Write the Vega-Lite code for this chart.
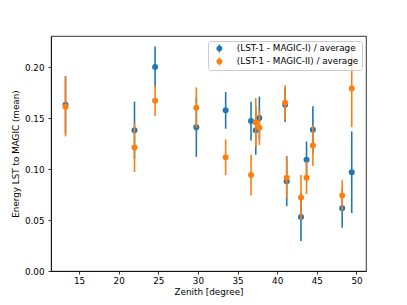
{
  "$schema": "https://vega.github.io/schema/vega-lite/v6.json",
  "width": 315,
  "height": 235,
  "autosize": {"type": "none"},
  "padding": {"left": 51, "top": 36, "right": 41, "bottom": 34},
  "background": "white",
  "config": {
    "font": "DejaVu Sans",
    "view": {"stroke": "black", "strokeWidth": 0.8},
    "axis": {
      "domainColor": "black", "domainWidth": 0.8, "tickColor": "black", "tickWidth": 0.8, "tickSize": 3,
      "labelFont": "DejaVu Sans", "labelFontSize": 8.8, "labelColor": "black",
      "titleFont": "DejaVu Sans", "titleFontSize": 8.8, "titleFontWeight": "normal", "titleColor": "black",
      "grid": false
    }
  },
  "data": {"values": [
    {"zenith": 13.3, "value": 0.163, "err": 0.028, "series": "(LST-1 - MAGIC-I) / average"},
    {"zenith": 22.0, "value": 0.138, "err": 0.028, "series": "(LST-1 - MAGIC-I) / average"},
    {"zenith": 24.6, "value": 0.200, "err": 0.020, "series": "(LST-1 - MAGIC-I) / average"},
    {"zenith": 29.8, "value": 0.141, "err": 0.029, "series": "(LST-1 - MAGIC-I) / average"},
    {"zenith": 33.5, "value": 0.1575, "err": 0.018, "series": "(LST-1 - MAGIC-I) / average"},
    {"zenith": 36.7, "value": 0.147, "err": 0.019, "series": "(LST-1 - MAGIC-I) / average"},
    {"zenith": 37.3, "value": 0.138, "err": 0.024, "series": "(LST-1 - MAGIC-I) / average"},
    {"zenith": 37.75, "value": 0.150, "err": 0.021, "series": "(LST-1 - MAGIC-I) / average"},
    {"zenith": 41.0, "value": 0.163, "err": 0.017, "series": "(LST-1 - MAGIC-I) / average"},
    {"zenith": 41.2, "value": 0.088, "err": 0.0245, "series": "(LST-1 - MAGIC-I) / average"},
    {"zenith": 43.0, "value": 0.053, "err": 0.0236, "series": "(LST-1 - MAGIC-I) / average"},
    {"zenith": 43.7, "value": 0.109, "err": 0.018, "series": "(LST-1 - MAGIC-I) / average"},
    {"zenith": 44.5, "value": 0.1385, "err": 0.023, "series": "(LST-1 - MAGIC-I) / average"},
    {"zenith": 48.2, "value": 0.0614, "err": 0.019, "series": "(LST-1 - MAGIC-I) / average"},
    {"zenith": 49.4, "value": 0.0968, "err": 0.040, "series": "(LST-1 - MAGIC-I) / average"},
    {"zenith": 13.3, "value": 0.161, "err": 0.029, "series": "(LST-1 - MAGIC-II) / average"},
    {"zenith": 22.0, "value": 0.121, "err": 0.024, "series": "(LST-1 - MAGIC-II) / average"},
    {"zenith": 24.6, "value": 0.167, "err": 0.015, "series": "(LST-1 - MAGIC-II) / average"},
    {"zenith": 29.8, "value": 0.160, "err": 0.020, "series": "(LST-1 - MAGIC-II) / average"},
    {"zenith": 33.5, "value": 0.1115, "err": 0.0175, "series": "(LST-1 - MAGIC-II) / average"},
    {"zenith": 36.7, "value": 0.094, "err": 0.020, "series": "(LST-1 - MAGIC-II) / average"},
    {"zenith": 37.3, "value": 0.1455, "err": 0.024, "series": "(LST-1 - MAGIC-II) / average"},
    {"zenith": 37.75, "value": 0.1405, "err": 0.017, "series": "(LST-1 - MAGIC-II) / average"},
    {"zenith": 41.0, "value": 0.165, "err": 0.017, "series": "(LST-1 - MAGIC-II) / average"},
    {"zenith": 41.2, "value": 0.0915, "err": 0.020, "series": "(LST-1 - MAGIC-II) / average"},
    {"zenith": 43.0, "value": 0.072, "err": 0.022, "series": "(LST-1 - MAGIC-II) / average"},
    {"zenith": 43.7, "value": 0.0915, "err": 0.016, "series": "(LST-1 - MAGIC-II) / average"},
    {"zenith": 44.5, "value": 0.123, "err": 0.020, "series": "(LST-1 - MAGIC-II) / average"},
    {"zenith": 48.2, "value": 0.074, "err": 0.015, "series": "(LST-1 - MAGIC-II) / average"},
    {"zenith": 49.4, "value": 0.179, "err": 0.038, "series": "(LST-1 - MAGIC-II) / average"}
  ]},
  "encoding": {
    "x": {"field": "zenith", "type": "quantitative", "title": "Zenith [degree]",
          "scale": {"domain": [11.47, 51.2], "nice": false, "zero": false},
          "axis": {"values": [15, 20, 25, 30, 35, 40, 45, 50], "labelPadding": 2, "titlePadding": 3}},
    "y": {"field": "value", "type": "quantitative", "title": "Energy LST to MAGIC (mean)",
          "scale": {"domain": [0, 0.2304], "nice": false},
          "axis": {"values": [0, 0.05, 0.1, 0.15, 0.2], "format": ".2f", "labelPadding": 4, "titlePadding": 4}}
  },
  "layer": [
    {
      "transform": [{"filter": "datum.series === '(LST-1 - MAGIC-I) / average'"}],
      "mark": {"type": "errorbar", "thickness": 1.6, "color": "#1f77b4", "opacity": 1},
      "encoding": {"yError": {"field": "err"}}
    },
    {
      "transform": [{"filter": "datum.series === '(LST-1 - MAGIC-I) / average'"}],
      "mark": {"type": "point", "filled": true, "size": 36, "opacity": 1},
      "encoding": {"color": {"field": "series", "type": "nominal"}}
    },
    {
      "transform": [{"filter": "datum.series === '(LST-1 - MAGIC-II) / average'"}],
      "mark": {"type": "errorbar", "thickness": 1.6, "color": "#ff7f0e", "opacity": 1},
      "encoding": {"yError": {"field": "err"}}
    },
    {
      "transform": [{"filter": "datum.series === '(LST-1 - MAGIC-II) / average'"}],
      "mark": {"type": "point", "filled": true, "size": 36, "opacity": 1},
      "encoding": {"color": {"field": "series", "type": "nominal",
        "scale": {"domain": ["(LST-1 - MAGIC-I) / average", "(LST-1 - MAGIC-II) / average"], "range": ["#1f77b4", "#ff7f0e"]},
        "legend": {"title": null, "orient": "none", "legendX": 157, "legendY": 5,
          "symbolType": "M-0.17,-1 L0.17,-1 L0.17,1 L-0.17,1 Z M-0.75,0 A0.75,0.75 0 1,1 0.75,0 A0.75,0.75 0 1,1 -0.75,0 Z",
          "symbolSize": 64, "symbolStrokeWidth": 0, "symbolOpacity": 1,
          "labelFont": "DejaVu Sans", "labelFontSize": 8.8, "labelColor": "black", "labelOffset": 13,
          "padding": 3, "symbolOffset": 4, "rowPadding": 3,
          "strokeColor": "#cccccc", "fillColor": "rgba(255,255,255,0.8)", "cornerRadius": 2}}}
    }
  ]
}
